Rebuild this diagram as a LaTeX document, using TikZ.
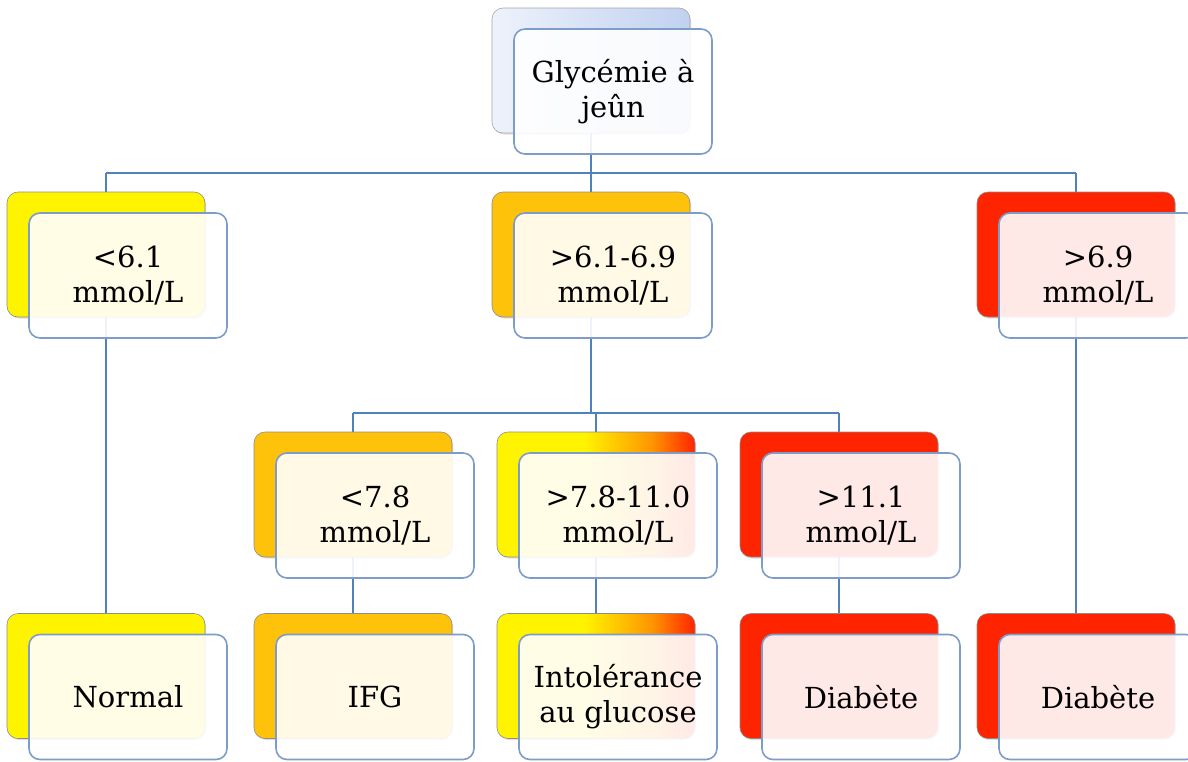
\documentclass[tikz,border=0pt]{standalone}
\usepackage{fontspec}
\setmainfont{DejaVu Serif}
\usetikzlibrary{shadows}
\definecolor{ylw}{RGB}{255,244,0}
\definecolor{gold}{RGB}{255,194,10}
\definecolor{redb}{RGB}{255,36,0}
\definecolor{orng}{RGB}{255,150,0}
\definecolor{bluelt}{RGB}{238,242,251}
\definecolor{bluedk}{RGB}{192,209,240}
\definecolor{frontedge}{RGB}{125,157,200}
\definecolor{conncol}{RGB}{79,129,189}
\pgfdeclarehorizontalshading{ylwred}{100bp}{color(0bp)=(ylw); color(25bp)=(ylw); color(47bp)=(ylw); color(64bp)=(orng); color(75bp)=(redb); color(100bp)=(redb)}
\pgfdeclarelayer{bg}
\pgfsetlayers{bg,main}
\tikzset{
  back/.style={rectangle, rounded corners=11pt, minimum width=198pt, minimum height=125pt,
    draw=black!45, line width=0.6pt, inner sep=0pt,
    drop shadow={shadow xshift=1pt, shadow yshift=-1.5pt, opacity=0.25}},
  front/.style={rectangle, rounded corners=11pt, minimum width=198pt, minimum height=125pt,
    draw=frontedge, line width=1.6pt, fill=white, fill opacity=0.9, text opacity=1,
    align=center, inner sep=2pt, font=\fontsize{29}{35}\selectfont},
  conn/.style={draw=conncol, line width=2pt},
  yb/.style={back, fill=ylw},
  gb/.style={back, fill=gold},
  rb/.style={back, fill=redb},
  grb/.style={back, shading=ylwred},
  bb/.style={back, left color=bluelt, right color=bluedk, draw=black!35},
}
\begin{document}
\begin{tikzpicture}[x=1pt,y=-1pt]
\useasboundingbox (0,0) rectangle (1188,761);
% back boxes
\node[bb] (t) at (591,70.5) {};
\node[yb] (a1) at (106,254.5) {};
\node[gb] (a2) at (591,254.5) {};
\node[rb] (a3) at (1076,254.5) {};
\node[gb] (b1) at (353,494.5) {};
\node[grb] (b2) at (596,494.5) {};
\node[rb] (b3) at (839,494.5) {};
\node[yb] (c1) at (106,676) {};
\node[gb] (c2) at (353,676) {};
\node[grb] (c3) at (596,676) {};
\node[rb] (c4) at (839,676) {};
\node[rb] (c5) at (1076,676) {};
% front boxes
\node[front] (ft) at ([shift={(22,21)}]t) {Glycémie à\\jeûn};
\node[front] (fa1) at ([shift={(22,21)}]a1) {<6.1\\mmol/L};
\node[front] (fa2) at ([shift={(22,21)}]a2) {>6.1-6.9\\mmol/L};
\node[front] (fa3) at ([shift={(22,21)}]a3) {>6.9\\mmol/L};
\node[front] (fb1) at ([shift={(22,21)}]b1) {<7.8\\mmol/L};
\node[front] (fb2) at ([shift={(22,21)}]b2) {>7.8-11.0\\mmol/L};
\node[front] (fb3) at ([shift={(22,21)}]b3) {>11.1\\mmol/L};
\node[front] (fc1) at ([shift={(22,21)}]c1) {Normal};
\node[front] (fc2) at ([shift={(22,21)}]c2) {IFG};
\node[front] (fc3) at ([shift={(22,21)}]c3) {Intolérance\\au glucose};
\node[front] (fc4) at ([shift={(22,21)}]c4) {Diabète};
\node[front] (fc5) at ([shift={(22,21)}]c5) {Diabète};
% connectors
\coordinate (h1) at (591,173);
\coordinate (h2) at (591,413);
\begin{pgfonlayer}{bg}
\draw[conn] (t.center) -- (a2.center);
\draw[conn] (a1 |- h1) -- (a3 |- h1);
\draw[conn] (a1 |- h1) -- (a1.center);
\draw[conn] (a3 |- h1) -- (a3.center);
\draw[conn] (a2.center) -- (h2);
\draw[conn] (b1 |- h2) -- (b3 |- h2);
\draw[conn] (b1 |- h2) -- (b1.center);
\draw[conn] (b2 |- h2) -- (b2.center);
\draw[conn] (b3 |- h2) -- (b3.center);
\draw[conn] (a1.center) -- (c1.center);
\draw[conn] (a3.center) -- (c5.center);
\draw[conn] (b1.center) -- (c2.center);
\draw[conn] (b2.center) -- (c3.center);
\draw[conn] (b3.center) -- (c4.center);
\end{pgfonlayer}
\end{tikzpicture}
\end{document}
